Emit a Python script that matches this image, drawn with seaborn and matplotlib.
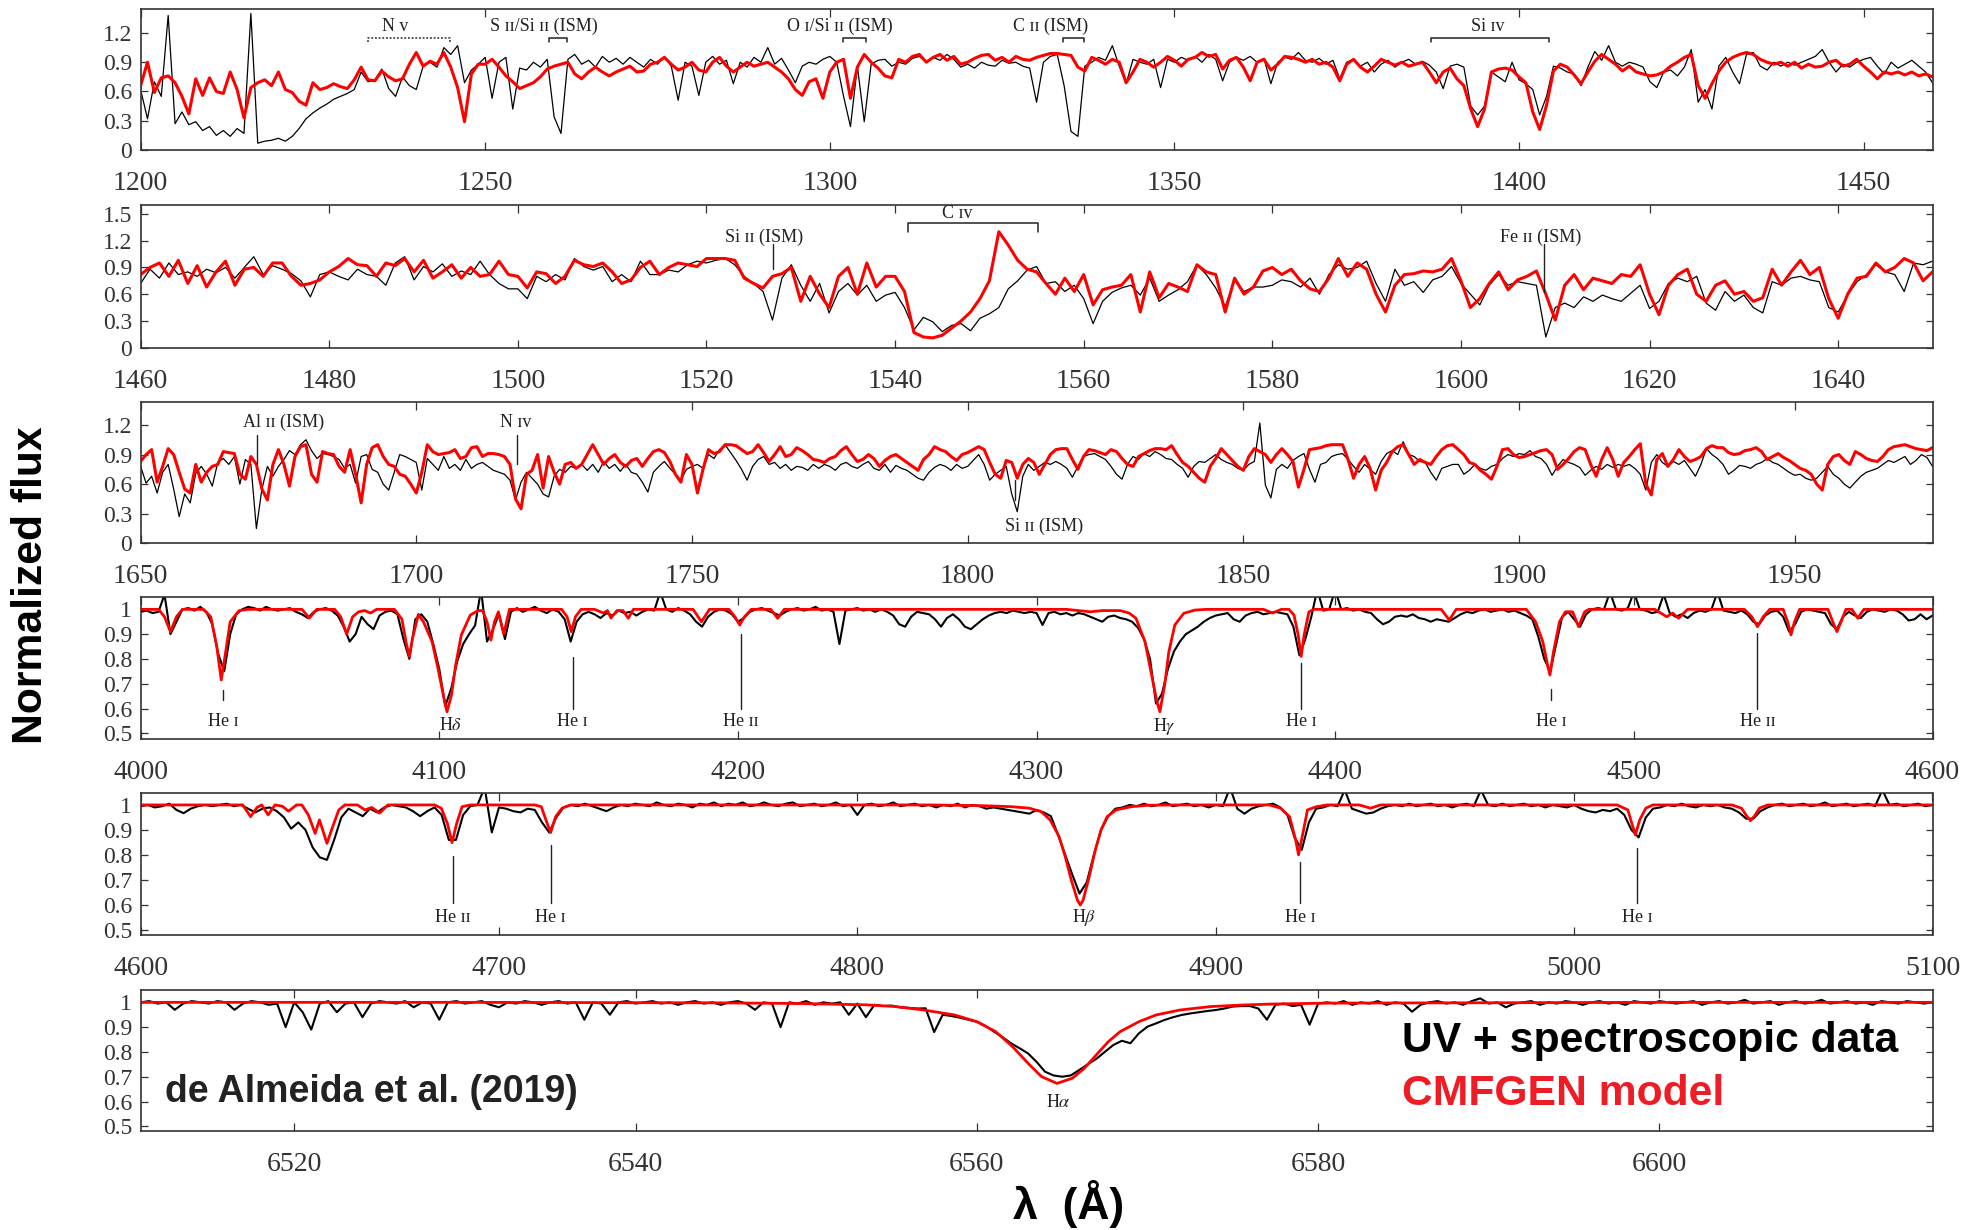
import numpy as np
import pandas as pd
import matplotlib
matplotlib.use("Agg")
import matplotlib.pyplot as plt
import seaborn as sns

# ---------------- DATA ----------------
# Panel 1 (UV, 1200-1460 A, 1 A sampling)
uv1_start, uv1_step = 1200.0, 1.0
obs1 = [0.62, 0.32, 0.70, 0.55, 1.38, 0.27, 0.39, 0.26, 0.29, 0.20,
        0.24, 0.15, 0.20, 0.14, 0.22, 0.17, 1.40, 0.07, 0.09, 0.10,
        0.12, 0.09, 0.14, 0.22, 0.32, 0.38, 0.43, 0.47, 0.52, 0.55,
        0.58, 0.62, 0.80, 0.70, 0.72, 0.83, 0.63, 0.55, 0.75, 0.66,
        0.62, 0.86, 0.90, 0.85, 1.05, 0.98, 1.07, 0.69, 0.82, 0.88,
        0.95, 0.53, 0.90, 0.95, 0.42, 0.84, 0.82, 0.90, 0.85, 0.93,
        0.34, 0.17, 0.93, 0.98, 0.88, 0.92, 0.85, 0.96, 0.90, 0.94,
        0.88, 0.95, 0.90, 0.85, 0.93, 0.88, 0.96, 0.86, 0.51, 0.90,
        0.86, 0.56, 0.90, 0.96, 0.88, 0.92, 0.68, 0.90, 0.85, 0.95,
        0.90, 1.05, 0.88, 0.94, 0.82, 0.69, 0.86, 0.90, 0.88, 0.93,
        0.96, 0.90, 0.55, 0.24, 0.86, 0.29, 0.88, 0.92, 0.93, 0.86,
        0.90, 0.88, 0.94, 0.96, 0.90, 0.95, 0.92, 0.98, 0.93, 0.85,
        0.88, 0.84, 0.90, 0.87, 0.86, 0.92, 0.89, 0.90, 0.86, 0.84,
        0.49, 0.90, 0.96, 0.98, 0.66, 0.19, 0.14, 0.86, 0.90, 0.95,
        0.92, 1.07, 0.86, 0.68, 0.93, 0.90, 0.88, 0.93, 0.64, 0.93,
        0.90, 0.95, 0.92, 0.96, 0.90, 0.98, 0.93, 0.71, 0.90, 0.95,
        0.92, 0.96, 0.90, 0.94, 0.68, 0.90, 0.95, 0.93, 1.00, 0.92,
        0.90, 0.94, 0.88, 0.92, 0.73, 0.90, 0.93, 0.86, 0.90, 0.80,
        0.88, 0.92, 0.85, 0.90, 0.93, 0.88, 0.91, 0.87, 0.80, 0.63,
        0.86, 0.88, 0.85, 0.45, 0.36, 0.45, 0.80, 0.75, 0.70, 0.90,
        0.72, 0.68, 0.62, 0.36, 0.55, 0.86, 0.84, 0.80, 0.78, 0.66,
        0.85, 1.01, 0.92, 1.07, 0.90, 0.86, 0.90, 0.88, 0.85, 0.70,
        0.64, 0.80, 0.82, 0.76, 0.85, 1.03, 0.49, 0.62, 0.42, 0.86,
        0.95, 0.80, 0.68, 0.98, 1.00, 0.86, 0.82, 0.90, 0.86, 0.90,
        0.87, 0.90, 0.93, 0.96, 1.03, 0.90, 0.80, 0.88, 0.85, 0.90,
        0.93, 0.95, 0.86, 0.78, 0.90, 0.84, 0.88, 0.92, 0.86, 0.80, 0.69]
mod1 = [0.66, 0.90, 0.59, 0.74, 0.76, 0.69, 0.55, 0.37, 0.73, 0.56,
        0.74, 0.60, 0.58, 0.80, 0.62, 0.33, 0.64, 0.69, 0.72, 0.66,
        0.80, 0.62, 0.59, 0.50, 0.46, 0.69, 0.62, 0.64, 0.68, 0.65,
        0.63, 0.72, 0.85, 0.72, 0.71, 0.81, 0.75, 0.71, 0.73, 0.88,
        1.00, 0.86, 0.91, 0.88, 1.00, 0.85, 0.64, 0.29, 0.78, 0.88,
        0.88, 0.93, 0.85, 0.76, 0.70, 0.63, 0.66, 0.69, 0.75, 0.83,
        0.86, 0.88, 0.90, 0.78, 0.73, 0.80, 0.85, 0.80, 0.76, 0.80,
        0.83, 0.86, 0.80, 0.81, 0.88, 0.90, 0.95, 0.88, 0.82, 0.85,
        0.90, 0.82, 0.80, 0.90, 0.95, 0.86, 0.80, 0.85, 0.90, 0.86,
        0.88, 0.90, 0.85, 0.80, 0.73, 0.62, 0.56, 0.70, 0.73, 0.53,
        0.80, 0.90, 0.93, 0.53, 0.85, 0.98, 0.90, 0.84, 0.76, 0.74,
        0.93, 0.90, 0.96, 0.98, 0.90, 0.95, 0.98, 0.92, 0.96, 0.88,
        0.90, 0.94, 0.97, 0.98, 0.92, 0.95, 0.90, 0.96, 0.93, 0.92,
        0.95, 0.97, 0.99, 0.99, 0.98, 0.97, 0.85, 0.81, 0.95, 0.92,
        0.88, 0.93, 0.90, 0.69, 0.80, 0.93, 0.90, 0.85, 0.90, 0.96,
        0.92, 0.86, 0.93, 0.95, 1.00, 0.96, 0.98, 0.83, 0.92, 0.95,
        0.85, 0.71, 0.90, 0.93, 0.82, 0.88, 0.96, 0.95, 0.93, 0.90,
        0.93, 0.88, 0.90, 0.85, 0.71, 0.88, 0.93, 0.85, 0.80, 0.86,
        0.93, 0.90, 0.87, 0.90, 0.86, 0.88, 0.90, 0.80, 0.69, 0.80,
        0.84, 0.73, 0.66, 0.42, 0.24, 0.42, 0.80, 0.83, 0.84, 0.82,
        0.75, 0.69, 0.39, 0.21, 0.46, 0.81, 0.88, 0.85, 0.77, 0.68,
        0.80, 0.91, 0.98, 0.93, 0.88, 0.81, 0.86, 0.80, 0.78, 0.76,
        0.77, 0.80, 0.86, 0.90, 0.95, 0.98, 0.66, 0.53, 0.68, 0.81,
        0.90, 0.95, 0.98, 1.00, 0.98, 0.93, 0.90, 0.88, 0.90, 0.86,
        0.90, 0.84, 0.88, 0.85, 0.86, 0.90, 0.92, 0.86, 0.88, 0.93,
        0.86, 0.80, 0.73, 0.80, 0.78, 0.80, 0.77, 0.80, 0.76, 0.78, 0.75]

# Panel 2 (UV, 1460-1650 A, 1 A sampling)
uv2_start, uv2_step = 1460.0, 1.0
obs2 = [0.72, 0.88, 0.78, 0.95, 0.82, 0.85, 0.80, 0.88, 0.84, 0.90,
        0.78, 0.90, 1.02, 0.82, 0.92, 0.88, 0.83, 0.75, 0.57, 0.82,
        0.85, 0.80, 0.76, 0.88, 0.82, 0.80, 0.70, 0.95, 1.02, 0.76,
        0.91, 0.85, 0.94, 0.80, 0.86, 0.82, 0.97, 0.82, 0.72, 0.66,
        0.66, 0.55, 0.80, 0.74, 0.82, 0.76, 1.00, 0.91, 0.87, 0.91,
        0.74, 0.82, 0.74, 0.97, 0.82, 0.82, 0.87, 0.85, 0.93, 0.97,
        0.95, 0.98, 1.00, 0.93, 0.80, 0.72, 0.63, 0.31, 0.78, 0.93,
        0.70, 0.52, 0.72, 0.39, 0.63, 0.72, 0.59, 0.70, 0.52, 0.59,
        0.62, 0.45, 0.20, 0.34, 0.29, 0.18, 0.25, 0.27, 0.19, 0.33,
        0.38, 0.45, 0.66, 0.75, 0.87, 0.91, 0.72, 0.74, 0.63, 0.70,
        0.55, 0.27, 0.52, 0.62, 0.67, 0.70, 0.59, 0.78, 0.52, 0.59,
        0.65, 0.74, 0.93, 0.82, 0.67, 0.46, 0.76, 0.63, 0.68, 0.68,
        0.70, 0.76, 0.74, 0.68, 0.78, 0.60, 0.82, 0.93, 0.88, 0.90,
        0.97, 0.72, 0.52, 0.88, 0.70, 0.74, 0.62, 0.76, 0.80, 0.91,
        0.72, 0.60, 0.48, 0.70, 0.82, 0.70, 0.74, 0.72, 0.70, 0.12,
        0.45, 0.50, 0.45, 0.57, 0.52, 0.59, 0.55, 0.52, 0.61, 0.70,
        0.44, 0.52, 0.72, 0.78, 0.74, 0.80, 0.50, 0.42, 0.63, 0.52,
        0.59, 0.45, 0.39, 0.74, 0.70, 0.78, 0.80, 0.76, 0.74, 0.45,
        0.40, 0.59, 0.74, 0.82, 0.93, 0.85, 0.82, 0.63, 0.95, 0.93, 0.97]
mod2 = [0.82, 0.90, 0.95, 0.80, 0.98, 0.72, 0.92, 0.68, 0.85, 0.97,
        0.70, 0.88, 0.90, 0.80, 0.95, 0.95, 0.80, 0.70, 0.72, 0.76,
        0.85, 0.91, 1.00, 0.93, 0.92, 0.80, 0.95, 0.92, 1.00, 0.85,
        0.98, 0.78, 0.85, 0.93, 0.78, 0.90, 0.80, 0.82, 0.97, 0.82,
        0.80, 0.67, 0.85, 0.83, 0.72, 0.80, 0.98, 0.93, 0.91, 0.95,
        0.85, 0.72, 0.76, 0.90, 0.97, 0.82, 0.90, 0.95, 0.93, 0.91,
        1.00, 1.00, 1.00, 0.98, 0.78, 0.72, 0.67, 0.80, 0.83, 0.90,
        0.52, 0.80, 0.60, 0.45, 0.80, 0.90, 0.60, 0.95, 0.68, 0.80,
        0.80, 0.63, 0.17, 0.12, 0.11, 0.14, 0.22, 0.30, 0.40, 0.55,
        0.75, 1.30, 1.15, 0.98, 0.88, 0.85, 0.72, 0.60, 0.78, 0.63,
        0.82, 0.48, 0.65, 0.68, 0.70, 0.82, 0.40, 0.85, 0.56, 0.72,
        0.68, 0.63, 0.93, 0.85, 0.82, 0.40, 0.78, 0.60, 0.68, 0.86,
        0.90, 0.82, 0.88, 0.75, 0.66, 0.63, 0.78, 1.00, 0.80, 0.95,
        0.88, 0.60, 0.40, 0.70, 0.82, 0.83, 0.86, 0.85, 0.88, 1.00,
        0.75, 0.45, 0.55, 0.72, 0.85, 0.65, 0.76, 0.80, 0.86, 0.60,
        0.31, 0.70, 0.82, 0.65, 0.78, 0.75, 0.72, 0.82, 0.80, 0.93,
        0.60, 0.37, 0.70, 0.82, 0.88, 0.60, 0.52, 0.70, 0.75, 0.60,
        0.63, 0.52, 0.56, 0.88, 0.70, 0.85, 0.98, 0.82, 0.90, 0.55,
        0.33, 0.60, 0.78, 0.80, 0.95, 0.85, 0.90, 1.00, 0.95, 0.75, 0.85]

# Panel 3 (UV, 1650-1975 A, 1 A sampling)
uv3_start, uv3_step = 1650.0, 1.0
obs3 = [0.78, 0.61, 0.68, 0.51, 0.72, 0.80, 0.55, 0.27, 0.50, 0.41,
        0.71, 0.78, 0.70, 0.58, 0.82, 0.86, 0.80, 0.88, 0.60, 0.85,
        0.80, 0.15, 0.55, 0.78, 0.68, 0.78, 0.85, 0.94, 0.90, 1.00,
        1.05, 0.94, 0.86, 0.91, 0.90, 0.88, 0.85, 0.76, 0.80, 0.61,
        0.88, 0.90, 0.75, 0.72, 0.60, 0.54, 0.72, 0.90, 0.88, 0.85,
        0.82, 0.54, 0.86, 0.80, 0.74, 0.88, 0.76, 0.80, 0.74, 0.85,
        0.76, 0.80, 0.82, 0.78, 0.74, 0.72, 0.70, 0.64, 0.44, 0.62,
        0.72, 0.66, 0.60, 0.50, 0.47, 0.68, 0.75, 0.72, 0.78, 0.76,
        0.80, 0.74, 0.80, 0.72, 0.83, 0.76, 0.80, 0.73, 0.80, 0.72,
        0.70, 0.62, 0.52, 0.72, 0.78, 0.83, 0.76, 0.70, 0.64, 0.75,
        0.78, 0.80, 0.76, 0.90, 0.86, 0.95, 1.00, 0.92, 0.84, 0.75,
        0.64, 0.78, 0.85, 0.88, 0.80, 0.82, 0.76, 0.80, 0.74, 0.78,
        0.77, 0.74, 0.80, 0.76, 0.80, 0.78, 0.74, 0.80, 0.82, 0.78,
        0.76, 0.80, 0.83, 0.76, 0.74, 0.80, 0.72, 0.79, 0.76, 0.74,
        0.70, 0.66, 0.64, 0.72, 0.77, 0.80, 0.78, 0.74, 0.80, 0.76,
        0.78, 0.84, 0.90, 0.80, 0.64, 0.70, 0.74, 0.78, 0.50, 0.32,
        0.68, 0.80, 0.74, 0.78, 0.82, 0.80, 0.83, 0.80, 0.76, 0.67,
        0.78, 0.88, 0.90, 0.91, 0.88, 0.85, 0.78, 0.70, 0.65, 0.80,
        0.88, 0.85, 0.91, 0.88, 0.93, 0.90, 0.86, 0.85, 0.80, 0.76,
        0.67, 0.78, 0.83, 0.82, 0.86, 0.90, 0.85, 0.82, 0.80, 0.76,
        0.74, 0.80, 0.83, 1.22, 0.59, 0.46, 0.75, 0.80, 0.76, 0.84,
        0.88, 0.91, 0.75, 0.62, 0.80, 0.82, 0.88, 0.90, 0.91, 0.85,
        0.78, 0.72, 0.80, 0.75, 0.70, 0.83, 0.91, 0.94, 0.90, 1.03,
        0.90, 0.88, 0.83, 0.82, 0.72, 0.64, 0.76, 0.78, 0.80, 0.80,
        0.70, 0.74, 0.80, 0.76, 0.74, 0.78, 0.80, 0.86, 0.90, 0.88,
        0.91, 0.90, 0.94, 0.88, 0.86, 0.80, 0.69, 0.78, 0.85, 0.82,
        0.80, 0.77, 0.69, 0.74, 0.78, 0.75, 0.80, 0.77, 0.80, 0.78,
        0.80, 0.76, 0.70, 0.54, 0.82, 0.90, 0.82, 0.78, 0.83, 0.80,
        0.84, 0.76, 0.68, 0.80, 0.96, 0.90, 0.86, 0.80, 0.70, 0.74,
        0.79, 0.78, 0.76, 0.80, 0.82, 0.86, 0.82, 0.80, 0.76, 0.72,
        0.69, 0.70, 0.66, 0.64, 0.66, 0.72, 0.78, 0.70, 0.66, 0.60,
        0.56, 0.62, 0.68, 0.72, 0.74, 0.76, 0.80, 0.84, 0.82, 0.85,
        0.88, 0.80, 0.84, 0.90, 0.87, 0.78]
mod3 = [0.83, 0.90, 0.95, 0.62, 0.78, 0.96, 0.90, 0.72, 0.55, 0.51,
        0.80, 0.62, 0.72, 0.78, 0.80, 0.93, 0.92, 0.91, 0.70, 0.65,
        0.88, 0.80, 0.55, 0.44, 0.80, 0.95, 0.80, 0.58, 0.88, 0.98,
        1.00, 0.70, 0.62, 0.93, 0.91, 0.90, 0.78, 0.72, 0.95, 0.70,
        0.41, 0.80, 0.97, 1.00, 0.88, 0.80, 0.78, 0.70, 0.68, 0.60,
        0.51, 0.72, 1.00, 0.93, 0.90, 0.91, 0.92, 0.95, 0.86, 0.88,
        0.97, 0.98, 0.88, 0.91, 0.91, 0.90, 0.88, 0.80, 0.45, 0.35,
        0.70, 0.74, 0.90, 0.56, 0.88, 0.72, 0.60, 0.80, 0.82, 0.76,
        0.80, 0.90, 1.00, 0.90, 0.80, 0.86, 0.90, 0.82, 0.78, 0.84,
        0.86, 0.78, 0.86, 0.93, 0.95, 0.92, 0.83, 0.70, 0.62, 0.90,
        0.80, 0.51, 0.75, 0.95, 0.91, 0.93, 1.00, 1.00, 0.99, 0.95,
        0.91, 0.93, 1.00, 0.92, 0.83, 0.90, 0.98, 0.88, 0.90, 0.97,
        0.94, 0.90, 0.85, 0.84, 0.82, 0.86, 0.88, 0.94, 0.98, 0.90,
        0.83, 0.85, 0.90, 0.86, 0.78, 0.84, 0.88, 0.90, 0.86, 0.82,
        0.78, 0.74, 0.85, 0.90, 0.98, 0.95, 0.93, 0.88, 0.84, 0.90,
        0.92, 0.95, 0.98, 0.95, 0.82, 0.70, 0.66, 0.84, 0.82, 0.66,
        0.80, 0.86, 0.82, 0.70, 0.80, 0.90, 0.95, 0.96, 0.96, 0.85,
        0.75, 0.88, 0.95, 0.94, 0.92, 0.90, 0.95, 0.93, 0.86, 0.80,
        0.78, 0.88, 0.91, 0.94, 0.96, 0.96, 0.95, 0.99, 0.90, 0.82,
        0.78, 0.72, 0.66, 0.62, 0.78, 0.86, 0.96, 0.90, 0.84, 0.78,
        0.74, 0.88, 0.96, 0.93, 0.90, 0.82, 0.90, 0.96, 0.90, 0.83,
        0.57, 0.75, 0.95, 0.96, 0.97, 0.99, 1.00, 1.00, 1.00, 0.85,
        0.66, 0.80, 0.88, 0.76, 0.54, 0.74, 0.82, 0.93, 0.98, 1.00,
        0.90, 0.80, 0.85, 0.82, 0.80, 0.88, 0.95, 0.99, 1.00, 0.95,
        0.90, 0.82, 0.80, 0.74, 0.70, 0.65, 0.78, 0.95, 0.96, 0.90,
        0.87, 0.88, 0.90, 0.92, 0.94, 0.95, 0.90, 0.75, 0.80, 0.86,
        0.93, 0.97, 0.95, 0.80, 0.68, 0.85, 0.97, 0.85, 0.68, 0.82,
        0.88, 0.95, 1.01, 0.60, 0.49, 0.85, 0.91, 0.78, 0.85, 0.95,
        0.88, 0.83, 0.85, 0.88, 0.96, 0.99, 0.97, 0.97, 0.92, 0.90,
        0.91, 0.94, 0.95, 0.97, 0.93, 0.85, 0.88, 0.91, 0.87, 0.84,
        0.80, 0.76, 0.74, 0.70, 0.60, 0.54, 0.80, 0.88, 0.90, 0.84,
        0.80, 0.93, 0.90, 0.86, 0.84, 0.83, 0.88, 0.95, 0.98, 0.99,
        1.00, 0.98, 0.96, 0.95, 0.94, 0.97]

# Panel 4 (optical, 4000-4600 A, observed sampled every 2 A)
op4_start, op4_step = 4000.0, 2.0
obs4 = [0.99, 0.995, 0.985, 0.99, 1.06, 0.90, 0.95, 1.0, 1.005, 0.995,
        1.01, 0.99, 0.94, 0.82, 0.75, 0.90, 0.98, 1.0, 1.01, 1.005,
        0.995, 1.01, 1.0, 0.995, 1.0, 1.005, 0.99, 0.98, 0.965, 0.99,
        1.0, 1.005, 0.995, 0.975, 0.93, 0.87, 0.90, 0.97, 0.94, 0.92,
        0.975, 0.99, 0.995, 0.98, 0.88, 0.80, 0.96, 0.98, 0.95, 0.86,
        0.76, 0.61, 0.68, 0.79, 0.86, 0.90, 0.935, 1.08, 0.87, 0.92,
        0.98, 0.88, 0.99, 1.005, 0.99, 1.0, 1.01, 0.995, 0.985, 1.0,
        0.99, 0.96, 0.87, 0.95, 0.98, 0.99, 0.98, 0.965, 0.985, 0.975,
        0.995, 0.985, 0.99, 0.975, 0.99, 1.0, 0.995, 1.07, 1.0, 0.99,
        1.005, 0.995, 0.98, 0.95, 0.93, 0.97, 0.99, 1.0, 0.995, 0.98,
        0.95, 0.965, 0.99, 1.0, 1.005, 0.995, 0.985, 0.975, 0.99, 1.0,
        1.005, 0.995, 1.0, 1.01, 0.995, 1.0, 0.99, 0.86, 0.995, 1.0,
        1.005, 0.995, 1.0, 0.99, 1.0, 0.99, 0.975, 0.94, 0.93, 0.97,
        0.99, 0.985, 0.98, 0.96, 0.93, 0.965, 0.98, 0.96, 0.93, 0.92,
        0.94, 0.96, 0.975, 0.985, 0.99, 0.985, 0.995, 0.99, 0.985, 0.99,
        0.985, 0.937, 0.985, 0.99, 0.98, 0.985, 0.975, 0.985, 0.98, 0.97,
        0.96, 0.95, 0.97, 0.975, 0.965, 0.96, 0.95, 0.925, 0.88, 0.80,
        0.62, 0.66, 0.76, 0.83, 0.87, 0.90, 0.915, 0.93, 0.95, 0.965,
        0.975, 0.98, 0.985, 0.96, 0.95, 0.975, 0.985, 0.99, 0.98, 0.985,
        0.99, 0.985, 0.98, 0.93, 0.815, 0.88, 0.97, 1.08, 0.995, 1.0,
        1.08, 1.0, 1.005, 0.995, 1.0, 0.99, 0.985, 0.96, 0.94, 0.95,
        0.97, 0.975, 0.97, 0.98, 0.965, 0.96, 0.95, 0.96, 0.955, 0.95,
        0.965, 0.98, 0.99, 0.985, 0.995, 1.0, 0.99, 0.995, 1.0, 0.99,
        0.995, 0.985, 0.975, 0.96, 0.89, 0.80, 0.75, 0.86, 0.97, 0.99,
        0.96, 0.93, 0.98, 1.0, 1.005, 1.0, 1.07, 1.0, 0.995, 1.005,
        1.07, 1.0, 0.995, 0.985, 0.99, 1.06, 0.985, 0.97, 0.98, 0.965,
        0.985, 0.995, 0.99, 1.0, 1.07, 0.995, 0.99, 0.985, 0.995, 0.98,
        0.95, 0.94, 0.975, 0.99, 0.995, 0.97, 0.91, 0.94, 0.99, 1.0,
        0.995, 0.99, 0.985, 0.94, 0.92, 0.97, 0.99, 0.975, 0.965, 0.99,
        1.0, 0.995, 0.99, 1.0, 0.995, 0.98, 0.955, 0.96, 0.98, 0.96,
        0.975]
mod4_wl = [4000, 4006, 4008, 4010, 4012, 4014, 4021, 4023.5, 4025.5, 4027,
           4028.5, 4030, 4033, 4036, 4054, 4056.5, 4059, 4065, 4067, 4069,
           4071, 4073, 4075, 4077, 4079, 4085, 4087.5, 4089, 4090, 4091,
           4093, 4094.7, 4097.6, 4099.6, 4101.6, 4102.6, 4104.1, 4105.5, 4107.4, 4110.4,
           4113, 4114.5, 4116, 4117.3, 4118.5, 4119.8, 4121.6, 4123.5, 4141, 4142.8,
           4144.2, 4145.6, 4147.5, 4152, 4155, 4156.3, 4157.5, 4159.5, 4161.5, 4163.3,
           4165, 4185, 4187.8, 4190.5, 4197, 4199, 4200.6, 4202.2, 4204.5, 4211,
           4213.3, 4215.5, 4310, 4318, 4322, 4328, 4331, 4333.3, 4336.3, 4338.3,
           4340.3, 4341.3, 4342.9, 4344.3, 4346.3, 4349.3, 4353, 4357, 4376, 4379,
           4382, 4384.5, 4386.2, 4387.6, 4388.6, 4389.6, 4391.2, 4393, 4435.5, 4438.2,
           4440.5, 4464, 4467.1, 4469.5, 4471.1, 4471.9, 4473.1, 4475.1, 4477.1, 4479.5,
           4481.5, 4483.5, 4485, 4507, 4511, 4513, 4515, 4518, 4537, 4539.5,
           4541.4, 4543.3, 4545.5, 4550, 4551.5, 4552.6, 4553.8, 4555.5, 4565, 4566.6,
           4568, 4569.4, 4571, 4573, 4575, 4577, 4600]
mod4_fx = [1.0, 1.0, 0.97, 0.91, 0.97, 1.0, 1.0, 0.97, 0.85, 0.715,
           0.83, 0.95, 0.995, 1.0, 1.0, 0.965, 1.0, 1.0, 0.97, 0.90,
           0.97, 0.99, 0.995, 0.985, 1.0, 1.0, 0.96, 0.86, 0.81, 0.88,
           0.98, 0.95, 0.87, 0.76, 0.64, 0.587, 0.655, 0.776, 0.897, 0.977,
           0.995, 0.995, 0.95, 0.876, 0.95, 0.99, 0.90, 1.0, 1.0, 0.97,
           0.91, 0.97, 1.0, 1.0, 0.985, 0.995, 0.965, 0.995, 0.995, 0.964,
           1.0, 1.0, 0.95, 1.0, 1.0, 0.97, 0.937, 0.97, 1.0, 1.0,
           0.964, 1.0, 1.0, 0.99, 0.995, 0.995, 0.985, 0.964, 0.87, 0.749,
           0.628, 0.587, 0.695, 0.829, 0.937, 0.984, 0.997, 1.0, 1.0, 0.985,
           1.0, 1.0, 0.977, 0.897, 0.81, 0.897, 0.99, 1.0, 1.0, 0.957,
           1.0, 1.0, 0.95, 0.87, 0.776, 0.735, 0.829, 0.95, 0.99, 0.99,
           0.93, 0.99, 1.0, 1.0, 0.97, 0.985, 0.964, 1.0, 1.0, 0.97,
           0.93, 0.97, 1.0, 1.0, 0.95, 0.897, 0.95, 1.0, 1.0, 0.95,
           0.91, 0.95, 1.0, 1.0, 0.964, 1.0, 1.0]

# Panel 5 (optical, 4600-5100 A, observed sampled every 2 A)
op5_start, op5_step = 4600.0, 2.0
obs5 = [0.995, 1.0, 0.99, 0.995, 1.005, 0.98, 0.967, 0.985, 0.995, 1.0,
        0.995, 1.0, 1.005, 0.995, 1.0, 0.985, 0.97, 0.985, 0.99, 0.975,
        0.95, 0.905, 0.93, 0.90, 0.83, 0.79, 0.78, 0.86, 0.95, 0.985,
        0.97, 0.955, 0.985, 0.97, 0.99, 1.0, 0.995, 0.99, 0.975, 0.955,
        0.975, 0.99, 0.96, 0.86, 0.86, 0.96, 0.995, 1.0, 1.07, 0.89,
        0.99, 0.985, 0.975, 0.97, 0.985, 0.98, 0.93, 0.89, 0.95, 0.99,
        1.0, 0.995, 1.005, 0.995, 0.985, 0.975, 0.99, 1.0, 0.995, 1.005,
        1.0, 0.995, 1.01, 1.0, 0.995, 1.005, 1.0, 0.99, 1.005, 1.0,
        1.01, 0.995, 1.005, 1.0, 1.01, 0.995, 1.0, 1.01, 1.0, 0.995,
        1.005, 1.01, 0.995, 1.0, 1.005, 0.995, 1.0, 1.01, 0.995, 1.0,
        0.96, 1.0, 1.005, 0.995, 1.0, 1.01, 0.995, 1.0, 1.005, 0.995,
        1.0, 0.99, 1.0, 0.995, 1.005, 0.99, 1.0, 0.995, 0.985, 0.99,
        0.985, 0.98, 0.975, 0.97, 0.965, 0.98, 0.97, 0.955, 0.88, 0.80,
        0.72, 0.645, 0.69, 0.80, 0.90, 0.955, 0.985, 0.99, 1.0, 0.995,
        1.005, 0.995, 1.0, 1.01, 0.995, 1.0, 1.005, 0.995, 1.0, 0.99,
        1.0, 0.995, 1.07, 0.985, 0.965, 0.985, 0.995, 1.0, 1.005, 0.99,
        0.96, 0.87, 0.82, 0.93, 0.985, 0.99, 1.0, 0.995, 1.06, 0.985,
        0.975, 0.965, 0.97, 0.985, 0.995, 1.0, 0.995, 1.005, 0.995, 1.0,
        1.005, 0.995, 1.0, 0.99, 1.0, 1.005, 0.995, 1.06, 1.0, 0.995,
        1.005, 0.995, 1.0, 1.005, 0.995, 1.0, 0.99, 1.0, 0.995, 0.99,
        1.0, 0.985, 0.975, 0.97, 0.98, 0.975, 0.985, 0.96, 0.90, 0.87,
        0.95, 0.985, 0.99, 1.0, 0.995, 1.005, 0.995, 0.99, 1.0, 0.995,
        1.0, 0.99, 0.985, 0.97, 0.945, 0.945, 0.975, 0.99, 1.0, 1.005,
        0.995, 1.0, 1.005, 0.995, 1.0, 1.01, 0.995, 1.0, 1.005, 0.995,
        1.0, 1.005, 0.995, 1.06, 1.0, 1.005, 0.995, 1.0, 1.005, 0.995,
        1.0]
mod5_wl = [4600, 4628.5, 4630.7, 4632.5, 4633.8, 4635.6, 4637.5, 4639.5, 4641.3, 4643.5,
           4645, 4646.8, 4648.7, 4649.9, 4650.8, 4652, 4653.6, 4655.3, 4657, 4660.5,
           4662.6, 4664.5, 4666.7, 4669, 4682, 4683.9, 4685.6, 4686.9, 4688.2, 4689.7,
           4692, 4710, 4711.8, 4713.1, 4714.4, 4715.8, 4717.6, 4720, 4820, 4835,
           4843, 4848, 4851.3, 4853.8, 4856.3, 4858, 4859.7, 4861.4, 4862.2, 4863,
           4864.7, 4866.4, 4868, 4869.7, 4872.2, 4876.4, 4881.4, 4890, 4915, 4918.1,
           4920.6, 4922.3, 4923.1, 4924.5, 4925.6, 4928.1, 4931, 4940, 4943.2, 4946,
           5012, 5015, 5016.1, 5017.1, 5018.3, 5020, 5022, 5044, 5046.7, 5048.2,
           5049.2, 5050.3, 5051.7, 5054, 5100]
mod5_fx = [1.0, 1.0, 0.953, 0.99, 1.0, 0.96, 1.0, 0.995, 0.975, 1.0,
           1.0, 0.96, 0.886, 0.94, 0.90, 0.846, 0.913, 0.98, 1.0, 1.0,
           0.98, 0.99, 0.967, 1.0, 1.0, 0.987, 0.926, 0.849, 0.926, 0.993,
           1.0, 1.0, 0.993, 0.94, 0.889, 0.953, 0.987, 1.0, 1.0, 0.997,
           0.993, 0.987, 0.973, 0.94, 0.873, 0.793, 0.699, 0.619, 0.599, 0.619,
           0.713, 0.82, 0.90, 0.953, 0.98, 0.993, 0.999, 1.0, 1.0, 0.987,
           0.953, 0.86, 0.80, 0.90, 0.98, 0.993, 1.0, 1.0, 0.987, 1.0,
           1.0, 0.98, 0.926, 0.88, 0.94, 0.987, 1.0, 1.0, 0.987, 0.955,
           0.937, 0.955, 0.987, 1.0, 1.0]

# Panel 6 (H-alpha, 6511-6616 A, observed sampled every 0.5 A)
op6_start, op6_step = 6511.0, 0.5
obs6 = [1.0, 1.005, 0.995, 1.0, 0.97, 0.995, 1.005, 1.0, 0.995, 1.005,
        1.0, 0.97, 0.995, 1.005, 1.0, 0.99, 0.995, 0.90, 1.0, 0.96,
        0.89, 0.995, 1.005, 0.96, 0.995, 1.0, 0.94, 0.995, 1.005, 1.0,
        0.995, 1.005, 0.98, 1.0, 0.995, 0.93, 1.0, 1.005, 0.995, 1.0,
        1.005, 0.99, 0.98, 1.0, 0.995, 1.005, 1.0, 0.99, 1.0, 1.005,
        0.995, 1.0, 0.93, 1.0, 0.995, 0.95, 1.0, 1.005, 0.995, 1.0,
        1.005, 0.995, 1.0, 0.99, 1.0, 1.005, 0.995, 1.0, 0.99, 1.0,
        1.005, 0.995, 0.97, 1.0, 0.995, 0.90, 1.0, 0.995, 1.005, 0.99,
        1.0, 0.995, 1.0, 0.95, 0.995, 0.94, 0.99, 0.985, 0.987, 0.98,
        0.978, 0.975, 0.976, 0.88, 0.95, 0.945, 0.938, 0.93, 0.922, 0.905,
        0.882, 0.86, 0.835, 0.815, 0.794, 0.76, 0.72, 0.705, 0.70, 0.705,
        0.727, 0.75, 0.772, 0.80, 0.828, 0.845, 0.835, 0.875, 0.902, 0.915,
        0.929, 0.94, 0.949, 0.955, 0.96, 0.965, 0.969, 0.975, 0.983, 0.985,
        0.985, 0.975, 0.93, 0.99, 0.995, 0.985, 0.99, 0.91, 0.995, 1.0,
        0.995, 1.005, 0.99, 1.0, 0.995, 1.005, 0.99, 1.0, 0.995, 0.962,
        0.99, 1.0, 1.005, 0.995, 1.0, 0.99, 1.005, 1.016, 0.995, 1.0,
        0.98, 0.995, 1.0, 1.005, 0.99, 1.0, 0.995, 1.005, 1.0, 0.99,
        1.0, 1.005, 0.995, 1.0, 0.99, 1.005, 1.0, 0.995, 1.005, 1.0,
        0.995, 1.0, 1.005, 0.99, 1.0, 1.005, 0.995, 1.0, 1.01, 0.995,
        1.0, 1.005, 0.99, 1.0, 1.005, 0.995, 1.0, 1.01, 0.995, 1.0,
        1.005, 0.995, 1.0, 0.99, 1.005, 1.0, 0.995, 1.005, 1.0, 0.995,
        1.0]
mod6_wl = [6511, 6530, 6545, 6550, 6553.5, 6555.2, 6556.9, 6558.7, 6560.0, 6561.1,
           6562.1, 6563.1, 6563.8, 6564.7, 6565.6, 6566.3, 6567.0, 6567.7, 6568.4, 6569.5,
           6570.5, 6571.9, 6573.7, 6575.5, 6577.2, 6580.7, 6588, 6600, 6616]
mod6_fx = [1.0, 1.0, 0.998, 0.995, 0.99, 0.983, 0.969, 0.949, 0.922, 0.882,
           0.821, 0.747, 0.70, 0.673, 0.694, 0.734, 0.788, 0.841, 0.882, 0.922,
           0.949, 0.969, 0.983, 0.989, 0.993, 0.997, 0.998, 1.0, 1.0]

# Axis ticks
xticks1 = [1200, 1250, 1300, 1350, 1400, 1450]
xticks2 = [1460, 1480, 1500, 1520, 1540, 1560, 1580, 1600, 1620, 1640]
xticks3 = [1650, 1700, 1750, 1800, 1850, 1900, 1950]
xticks4 = [4000, 4100, 4200, 4300, 4400, 4500, 4600]
xticks5 = [4600, 4700, 4800, 4900, 5000, 5100]
xticks6 = [6520, 6540, 6560, 6580, 6600]
yticks_uv = [0, 0.3, 0.6, 0.9, 1.2]
ylabels_uv = ["0", "0.3", "0.6", "0.9", "1.2"]
yticks_uv2 = [0, 0.3, 0.6, 0.9, 1.2, 1.5]
ylabels_uv2 = ["0", "0.3", "0.6", "0.9", "1.2", "1.5"]
yticks_op = [0.5, 0.6, 0.7, 0.8, 0.9, 1.0]
ylabels_op = ["0.5", "0.6", "0.7", "0.8", "0.9", "1"]

# ---------------- STYLE ----------------
sns.set_theme(style="ticks")
SERIF = ["Liberation Serif", "DejaVu Serif"]
SANS = ["Liberation Sans", "DejaVu Sans"]
plt.rcParams["font.family"] = SERIF
plt.rcParams["mathtext.fontset"] = "stix"
plt.rcParams.update({
    "xtick.direction": "in", "ytick.direction": "in",
    "xtick.top": True, "ytick.right": True,
    "xtick.major.size": 6, "ytick.major.size": 5,
    "xtick.major.width": 0.9, "ytick.major.width": 0.9,
    "axes.edgecolor": "#333333", "axes.linewidth": 1.2,
    "xtick.color": "#333333", "ytick.color": "#333333",
})

W, H = 1967, 1230
fig = plt.figure(figsize=(W / 100, H / 100), dpi=100)

LEFT, RIGHT = 140.6, 1932.5
boxes = [(9.3, 150.0), (205.0, 347.7), (401.7, 543.3),
         (596.7, 739.0), (792.7, 935.0), (989.7, 1131.0)]


def make_ax(i):
    top, bot = boxes[i]
    return fig.add_axes([LEFT / W, 1 - bot / H, (RIGHT - LEFT) / W, (bot - top) / H])


def grid(start, step, arr):
    return start + step * np.arange(len(arr))


panels = [
    dict(ow=grid(uv1_start, uv1_step, obs1), of=obs1, mw=grid(uv1_start, uv1_step, mod1), mf=mod1,
         xlim=(1200, 1460), ylim=(0, 1.443), xt=xticks1, yt=yticks_uv, yl=ylabels_uv, uv=True),
    dict(ow=grid(uv2_start, uv2_step, obs2), of=obs2, mw=grid(uv2_start, uv2_step, mod2), mf=mod2,
         xlim=(1460, 1650), ylim=(0, 1.6), xt=xticks2, yt=yticks_uv2, yl=ylabels_uv2, uv=True),
    dict(ow=grid(uv3_start, uv3_step, obs3), of=obs3, mw=grid(uv3_start, uv3_step, mod3), mf=mod3,
         xlim=(1650, 1975), ylim=(0, 1.436), xt=xticks3, yt=yticks_uv, yl=ylabels_uv, uv=True),
    dict(ow=grid(op4_start, op4_step, obs4), of=obs4, mw=np.array(mod4_wl), mf=mod4_fx,
         xlim=(4000, 4600), ylim=(0.477, 1.051), xt=xticks4, yt=yticks_op, yl=ylabels_op, uv=False),
    dict(ow=grid(op5_start, op5_step, obs5), of=obs5, mw=np.array(mod5_wl), mf=mod5_fx,
         xlim=(4600, 5100), ylim=(0.479, 1.049), xt=xticks5, yt=yticks_op, yl=ylabels_op, uv=False),
    dict(ow=grid(op6_start, op6_step, obs6), of=obs6, mw=np.array(mod6_wl), mf=mod6_fx,
         xlim=(6511, 6616), ylim=(0.481, 1.051), xt=xticks6, yt=yticks_op, yl=ylabels_op, uv=False),
]

axes = []
for i, p in enumerate(panels):
    ax = make_ax(i)
    dfo = pd.DataFrame({"wl": p["ow"], "flux": p["of"]})
    dfm = pd.DataFrame({"wl": p["mw"], "flux": p["mf"]})
    sns.lineplot(data=dfo, x="wl", y="flux", ax=ax, color="black",
                 lw=0.9 if p["uv"] else 1.5, estimator=None, sort=False)
    sns.lineplot(data=dfm, x="wl", y="flux", ax=ax, color="#ff0000",
                 lw=2.2 if p["uv"] else 2.0, estimator=None, sort=False)
    ax.set_xlim(*p["xlim"])
    ax.set_ylim(*p["ylim"])
    ax.set_xticks(p["xt"])
    ax.set_xticklabels([str(t) for t in p["xt"]], fontsize=20, fontfamily="Liberation Serif")
    ax.set_yticks(p["yt"])
    ax.set_yticklabels(p["yl"], fontsize=17, fontfamily="Liberation Serif")
    ax.tick_params(axis="x", pad=15)
    ax.tick_params(axis="y", pad=6)
    ax.set_xlabel("")
    ax.set_ylabel("")
    for s in ax.spines.values():
        s.set_visible(True)
    axes.append(ax)

ANN = "#222222"


def label(ax, x, y, s, size=13):
    ax.text(x, y, s, ha="center", va="center", fontsize=size, family=SERIF, color=ANN)


def bracket(ax, x0, x1, y, y_end, ls="-"):
    ax.plot([x0, x0, x1, x1], [y_end, y, y, y_end], color=ANN, lw=1.1, ls=ls)


def mark(ax, x, y0, y1):
    ax.plot([x, x], [y0, y1], color=ANN, lw=1.0)


# Panel 1 annotations
a = axes[0]
label(a, 1237, 1.267, "N v")
bracket(a, 1233.0, 1244.9, 1.149, 1.105, ls=(0, (1.2, 1.2)))
label(a, 1258.5, 1.267, "S ɪɪ/Si ɪɪ (ISM)")
bracket(a, 1259.3, 1261.9, 1.149, 1.105)
label(a, 1301.5, 1.267, "O ɪ/Si ɪɪ (ISM)")
bracket(a, 1301.9, 1305.3, 1.149, 1.105)
label(a, 1332.0, 1.267, "C ɪɪ (ISM)")
bracket(a, 1333.8, 1336.9, 1.149, 1.105)
label(a, 1395.5, 1.267, "Si ɪv")
bracket(a, 1387.3, 1404.4, 1.149, 1.105)

# Panel 2 annotations
a = axes[1]
label(a, 1546.6, 1.507, "C ɪv")
bracket(a, 1541.4, 1555.2, 1.40, 1.30)
label(a, 1526.1, 1.233, "Si ɪɪ (ISM)")
mark(a, 1527.1, 1.163, 0.88)
label(a, 1608.5, 1.233, "Fe ɪɪ (ISM)")
mark(a, 1608.8, 1.163, 0.63)

# Panel 3 annotations
a = axes[2]
label(a, 1676.0, 1.226, "Al ɪɪ (ISM)")
mark(a, 1671.1, 1.094, 0.80)
label(a, 1718.0, 1.226, "N ɪv")
mark(a, 1718.2, 1.094, 0.80)
label(a, 1813.9, 0.169, "Si ɪɪ (ISM)")
mark(a, 1808.6, 0.44, 0.64)

# Panel 4 annotations
a = axes[3]
for x, s, top in [(4027.6, "He ɪ", 0.675), (4144.7, "He ɪ", 0.809), (4201.0, "He ɪɪ", 0.899),
                  (4388.6, "He ɪ", 0.782), (4472.3, "He ɪ", 0.678), (4541.4, "He ɪɪ", 0.903)]:
    label(a, x, 0.547, s)
    mark(a, x, 0.598 if top > 0.7 else 0.634, top)
label(a, 4103.9, 0.533, r"H$\delta$")
label(a, 4342.9, 0.527, r"H$\gamma$")

# Panel 5 annotations
a = axes[4]
for x, s, top in [(4687.1, "He ɪɪ", 0.795), (4714.4, "He ɪ", 0.84),
                  (4923.6, "He ɪ", 0.773), (5017.6, "He ɪ", 0.826)]:
    label(a, x, 0.55, s)
    mark(a, x, 0.606, top)
label(a, 4863.2, 0.55, r"H$\beta$")

# Panel 6 annotations and legend texts
a = axes[5]
label(a, 6564.8, 0.595, r"H$\alpha$")
a.text(0.0137, 0.278, "de Almeida et al. (2019)", transform=a.transAxes, ha="left", va="center",
       fontsize=27, fontweight="bold", family=SANS, color="#222222")
a.text(0.704, 0.637, "UV + spectroscopic data", transform=a.transAxes, ha="left", va="center",
       fontsize=30.7, fontweight="bold", family=SANS, color="black")
a.text(0.704, 0.262, "CMFGEN model", transform=a.transAxes, ha="left", va="center",
       fontsize=30.7, fontweight="bold", family=SANS, color="#ee1c25")

fig.text(31 / W, 1 - 585 / H, "Normalized flux", rotation=90, ha="center", va="center",
         fontsize=30.7, fontweight="bold", family=SANS, color="black")
fig.text(1069 / W, 1 - 1204 / H, "λ  (Å)", ha="center", va="center",
         fontsize=32, fontweight="bold", family=SANS, color="black")

fig.savefig("out.png", dpi=100)
